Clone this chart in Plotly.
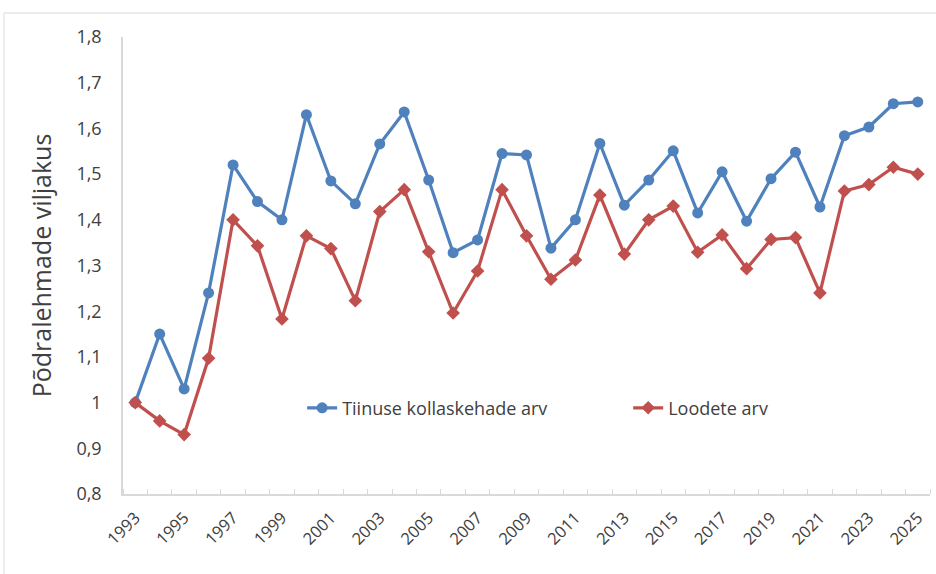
import plotly.graph_objects as go

aastad = list(range(1993, 2026))

kollaskehad = [1.00, 1.15, 1.03, 1.24, 1.52, 1.44, 1.40, 1.63, 1.485, 1.435,
               1.566, 1.636, 1.487, 1.328, 1.356, 1.545, 1.542, 1.338, 1.40, 1.567,
               1.432, 1.487, 1.551, 1.415, 1.505, 1.397, 1.49, 1.548, 1.428, 1.584,
               1.603, 1.654, 1.658]

loodet = [1.00, 0.96, 0.93, 1.097, 1.40, 1.343, 1.183, 1.365, 1.337, 1.223,
          1.418, 1.466, 1.33, 1.196, 1.288, 1.466, 1.365, 1.27, 1.312, 1.454,
          1.325, 1.40, 1.43, 1.329, 1.367, 1.293, 1.357, 1.361, 1.24, 1.463,
          1.477, 1.515, 1.50]

y_ticks = [0.8, 0.9, 1.0, 1.1, 1.2, 1.3, 1.4, 1.5, 1.6, 1.7, 1.8]
y_labels = ["0,8", "0,9", "1", "1,1", "1,2", "1,3", "1,4", "1,5", "1,6", "1,7", "1,8"]
x_ticks = aastad[::2]

sinine = "#4F81BD"
punane = "#C0504D"

fig = go.Figure()
fig.add_trace(go.Scatter(x=aastad, y=kollaskehad, name="Tiinuse kollaskehade arv",
                         mode="lines+markers", legend="legend",
                         line=dict(color=sinine, width=3.2),
                         marker=dict(symbol="circle", size=11, color=sinine)))
fig.add_trace(go.Scatter(x=aastad, y=loodet, name="Loodete arv",
                         mode="lines+markers", legend="legend2",
                         line=dict(color=punane, width=3.2),
                         marker=dict(symbol="diamond", size=10.5, color=punane)))

leg = dict(orientation="h", y=0.188, xanchor="left", yanchor="middle",
           font=dict(size=18, color="#404040"), bgcolor="rgba(0,0,0,0)")

fig.update_layout(
    width=936, height=574,
    margin=dict(l=123, r=6, t=37, b=80),
    paper_bgcolor="white", plot_bgcolor="white",
    font=dict(family="Open Sans", color="#404040"),
    showlegend=True,
    legend=dict(leg, x=0.222),
    legend2=dict(leg, x=0.626),
)
fig.update_xaxes(range=[1992.5, 2025.5], tickmode="array", tickvals=x_ticks,
                 ticktext=[str(a) for a in x_ticks], tickangle=-45,
                 tickfont=dict(size=16.5, color="#404040"),
                 showgrid=False, zeroline=False, automargin=False,
                 showline=True, linecolor="#D9D9D9", linewidth=1.5,
                 ticks="outside", ticklen=6, tickcolor="white",
                 minor=dict(ticks="inside", tick0=1992.5, dtick=1, ticklen=5,
                            tickcolor="#D9D9D9", showgrid=False))
fig.update_yaxes(range=[0.8, 1.8], tickmode="array", tickvals=y_ticks, ticktext=y_labels,
                 tickfont=dict(size=18, color="#404040"),
                 showgrid=False, zeroline=False, automargin=False,
                 showline=True, linecolor="#D9D9D9", linewidth=1.5,
                 ticks="outside", ticklen=16, tickcolor="white",
                 title=dict(text="Põdralehmade viljakus", font=dict(size=25, color="#404040"),
                            standoff=18))

# diagrammi ala raam
fig.add_shape(type="rect", xref="paper", yref="paper",
              x0=-0.1475, x1=1.0124, y0=-0.188, y1=1.0525,
              line=dict(color="#D9D9D9", width=1))

fig.write_html("out.html", config={"displayModeBar": False},
               post_script="document.body.style.margin='0';")
